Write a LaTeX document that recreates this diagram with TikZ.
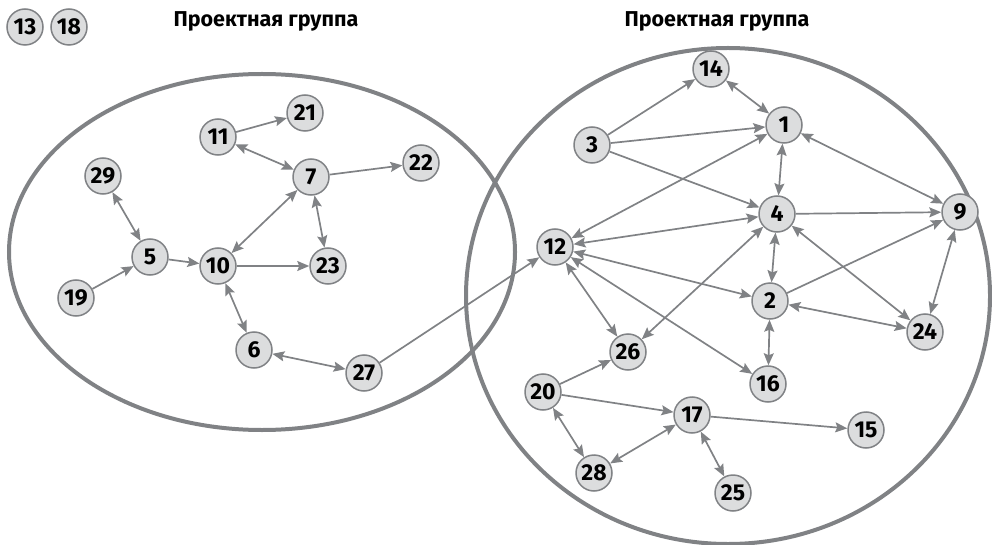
\documentclass[tikz,border=0pt]{standalone}
\usepackage{fontspec}
\setmainfont{Fira Sans}
\usetikzlibrary{arrows.meta}
\definecolor{edgegray}{HTML}{808285}
\definecolor{nodefill}{HTML}{DCDDDE}
\tikzset{
  vert/.style={circle, draw=edgegray, line width=1.5pt, fill=nodefill, minimum size=36pt, inner sep=0pt, font=\fontsize{23}{23}\selectfont\bfseries},
  grp/.style={draw=edgegray, line width=4pt},
  lnk/.style={draw=edgegray, line width=1.7pt, -{Stealth[length=12pt,width=10pt,inset=2pt]}},
  blnk/.style={draw=edgegray, line width=1.7pt, {Stealth[length=12pt,width=10pt,inset=2pt]}-{Stealth[length=12pt,width=10pt,inset=2pt]}},
  ttl/.style={font=\fontsize{21.5}{21.5}\selectfont\bfseries}
}
\begin{document}
\begin{tikzpicture}[x=1pt,y=-1pt]
\useasboundingbox (0,0) rectangle (992,545);
\draw[grp] (262,252) ellipse [x radius=253, y radius=178];
\draw[grp] (728,296) ellipse [x radius=262, y radius=248];
\node[ttl] (t1) at (266,21) {Проектная группа};
\node[ttl] (t2) at (717,21) {Проектная группа};
% nodes
\node[vert] (n13) at (25,27) {13};
\node[vert] (n18) at (69,27) {18};
\node[vert] (n11) at (218,137) {11};
\node[vert] (n21) at (305,113) {21};
\node[vert] (n29) at (103,176) {29};
\node[vert] (n7) at (311,177) {7};
\node[vert] (n22) at (421,163) {22};
\node[vert] (n5) at (150,257) {5};
\node[vert] (n10) at (218,266) {10};
\node[vert] (n23) at (328,266) {23};
\node[vert] (n19) at (76,298) {19};
\node[vert] (n6) at (254,350) {6};
\node[vert] (n27) at (364,373) {27};
\node[vert] (n14) at (711,69) {14};
\node[vert] (n1) at (784,125) {1};
\node[vert] (n3) at (592,145) {3};
\node[vert] (n4) at (777,214) {4};
\node[vert] (n9) at (960,212) {9};
\node[vert] (n12) at (555,247) {12};
\node[vert] (n2) at (770,301) {2};
\node[vert] (n24) at (925,332) {24};
\node[vert] (n26) at (628,352) {26};
\node[vert] (n16) at (768,384) {16};
\node[vert] (n20) at (543,392) {20};
\node[vert] (n17) at (692,415) {17};
\node[vert] (n15) at (866,430) {15};
\node[vert] (n28) at (594,473) {28};
\node[vert] (n25) at (733,493) {25};
% left group edges
\draw[lnk] (n11) -- (n21);
\draw[blnk] (n11) -- (n7);
\draw[lnk] (n7) -- (n22);
\draw[blnk] (n10) -- (n7);
\draw[blnk] (n7) -- (n23);
\draw[blnk] (n29) -- (n5);
\draw[lnk] (n19) -- (n5);
\draw[lnk] (n5) -- (n10);
\draw[lnk] (n10) -- (n23);
\draw[blnk] (n10) -- (n6);
\draw[blnk] (n6) -- (n27);
\draw[lnk] (n27) -- (n12);
% right group edges
\draw[lnk] (n3) -- (n14);
\draw[blnk] (n14) -- (n1);
\draw[lnk] (n3) -- (n1);
\draw[lnk] (n3) -- (n4);
\draw[blnk] (n12) -- (n1);
\draw[blnk] (n1) -- (n4);
\draw[blnk] (n1) -- (n9);
\draw[lnk] (n4) -- (n9);
\draw[blnk] (n12) -- (n4);
\draw[blnk] (n4) -- (n2);
\draw[lnk] (n2) -- (n9);
\draw[blnk] (n4) -- (n24);
\draw[blnk] (n9) -- (n24);
\draw[blnk] (n12) -- (n2);
\draw[blnk] (n2) -- (n24);
\draw[blnk] (n2) -- (n16);
\draw[blnk] (n12) -- (n16);
\draw[blnk] (n12) -- (n26);
\draw[blnk] (n4) -- (n26);
\draw[lnk] (n20) -- (n26);
\draw[lnk] (n20) -- (n17);
\draw[blnk] (n20) -- (n28);
\draw[blnk] (n28) -- (n17);
\draw[lnk] (n17) -- (n15);
\draw[blnk] (n17) -- (n25);
\end{tikzpicture}
\end{document}
